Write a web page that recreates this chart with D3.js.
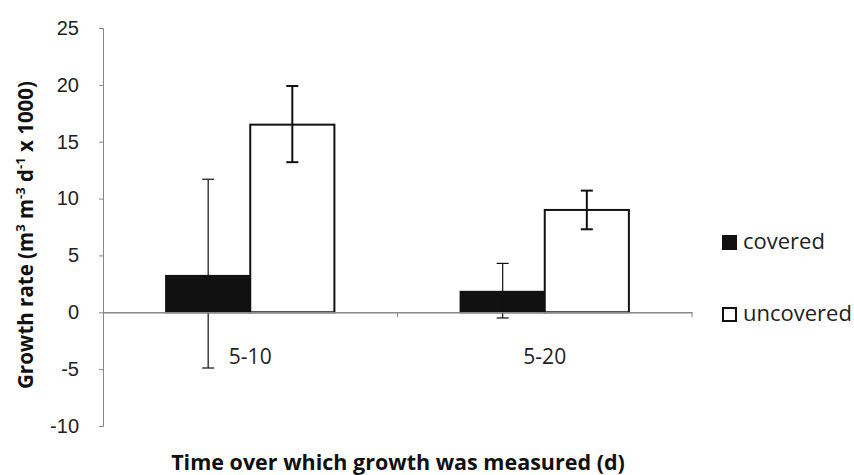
<!DOCTYPE html>
<html>
<head>
<meta charset="utf-8">
<script src="https://cdn.jsdelivr.net/npm/d3@7"></script>
<style>
  body { margin: 0; background: #fff; }
  svg { font-family: "Open Sans", Lato, sans-serif; }
</style>
</head>
<body>
<svg width="854" height="475"></svg>
<script>
// data
const categories = ["5-10", "5-20"];
const seriesNames = ["covered", "uncovered"];
const coveredValues = [3.2, 1.8];
const coveredErrLow = [-4.9, -0.5];
const coveredErrHigh = [11.7, 4.3];
const uncoveredValues = [16.5, 9.0];
const uncoveredErrLow = [13.2, 7.3];
const uncoveredErrHigh = [19.9, 10.7];
const yTicks = [-10, -5, 0, 5, 10, 15, 20, 25];

const rows = categories.map((c, i) => ({
  cat: c,
  bars: [
    {name: "covered", v: coveredValues[i], lo: coveredErrLow[i], hi: coveredErrHigh[i]},
    {name: "uncovered", v: uncoveredValues[i], lo: uncoveredErrLow[i], hi: uncoveredErrHigh[i]}
  ]
}));

var svg = d3.select("svg");

var y = d3.scaleLinear().domain([-10, 25]).range([426, 28]);
var x = d3.scaleBand().domain(categories).range([103, 692]).paddingInner(0).paddingOuter(0);
var xs = d3.scaleBand().domain(seriesNames).range([0, x.bandwidth()]).paddingInner(0).paddingOuter(0.75);

var fill = d3.scaleOrdinal(seriesNames, ["#111", "#fff"]);

// y axis
svg.append("g")
    .attr("transform", "translate(103,0)")
    .call(d3.axisLeft(y).tickValues(yTicks).tickSize(4).tickPadding(20).tickFormat(d => String(d)))
    .call(g => g.select(".domain").attr("stroke", "#888"))
    .call(g => g.selectAll(".tick line").attr("stroke", "#888"))
    .call(g => g.selectAll(".tick text").attr("font-size", 20).attr("fill", "#222"));

// bars
var grp = svg.append("g").selectAll("g")
    .data(rows)
    .join("g")
      .attr("transform", d => `translate(${x(d.cat)},0)`);

grp.selectAll("rect")
    .data(d => d.bars)
    .join("rect")
      .attr("x", d => xs(d.name))
      .attr("width", xs.bandwidth())
      .attr("y", d => y(Math.max(0, d.v)))
      .attr("height", d => Math.abs(y(d.v) - y(0)))
      .attr("fill", d => fill(d.name))
      .attr("stroke", "#111")
      .attr("stroke-width", 2);

// x axis line at zero
svg.append("g")
    .attr("transform", `translate(0,${y(0)})`)
    .call(d3.axisBottom(x).tickSize(0).tickFormat(""))
    .call(g => g.select(".domain").attr("stroke", "#888").attr("stroke-width", 1.5));

// category boundary ticks
svg.append("g").selectAll("line")
    .data(categories.map(c => x(c) + x.bandwidth()))
    .join("line")
      .attr("x1", d => d).attr("x2", d => d)
      .attr("y1", y(0)).attr("y2", y(0) + 5)
      .attr("stroke", "#888");

// error bars
var eb = grp.selectAll("g.err")
    .data(d => d.bars)
    .join("g")
      .attr("class", "err")
      .attr("stroke", "#111")
      .attr("stroke-width", d => d.name == "covered" ? 1.2 : 2);

eb.append("line")
    .attr("x1", d => xs(d.name) + xs.bandwidth() / 2)
    .attr("x2", d => xs(d.name) + xs.bandwidth() / 2)
    .attr("y1", d => y(d.lo))
    .attr("y2", d => y(d.hi));

eb.selectAll("line.cap")
    .data(d => [d.lo, d.hi].map(v => ({v: v, name: d.name})))
    .join("line")
      .attr("class", "cap")
      .attr("x1", d => xs(d.name) + xs.bandwidth() / 2 - 6)
      .attr("x2", d => xs(d.name) + xs.bandwidth() / 2 + 6)
      .attr("y1", d => y(d.v))
      .attr("y2", d => y(d.v));

// category labels
svg.append("g").selectAll("text")
    .data(categories)
    .join("text")
      .attr("x", d => x(d) + x.bandwidth() / 2)
      .attr("y", 364)
      .attr("text-anchor", "middle")
      .attr("font-size", 21)
      .attr("fill", "#222")
      .text(d => d);

// axis titles
svg.append("text")
    .attr("x", 398)
    .attr("y", 470)
    .attr("text-anchor", "middle")
    .attr("font-size", 21.5)
    .attr("font-weight", "bold")
    .attr("fill", "#111")
    .text("Time over which growth was measured (d)");

var yt = svg.append("text")
    .attr("transform", "translate(33,235) rotate(-90)")
    .attr("text-anchor", "middle")
    .attr("font-size", 20.5)
    .attr("font-weight", "bold")
    .attr("fill", "#111");
yt.append("tspan").text("Growth rate (m");
yt.append("tspan").attr("font-size", 13).attr("dy", -8).text("3");
yt.append("tspan").attr("dy", 8).text(" m");
yt.append("tspan").attr("font-size", 13).attr("dy", -8).text("-3");
yt.append("tspan").attr("dy", 8).text("  d");
yt.append("tspan").attr("font-size", 13).attr("dy", -8).text("-1");
yt.append("tspan").attr("dy", 8).text(" x 1000)");

// legend
var leg = svg.append("g").selectAll("g")
    .data(seriesNames)
    .join("g")
      .attr("transform", (d, i) => `translate(723,${236 + i * 72})`);

leg.append("rect")
    .attr("width", 13).attr("height", 13)
    .attr("fill", d => fill(d))
    .attr("stroke", "#111")
    .attr("stroke-width", 2);

leg.append("text")
    .attr("x", 20)
    .attr("y", 13)
    .attr("font-size", 22)
    .attr("fill", "#222")
    .text(d => d);
</script>
</body>
</html>
